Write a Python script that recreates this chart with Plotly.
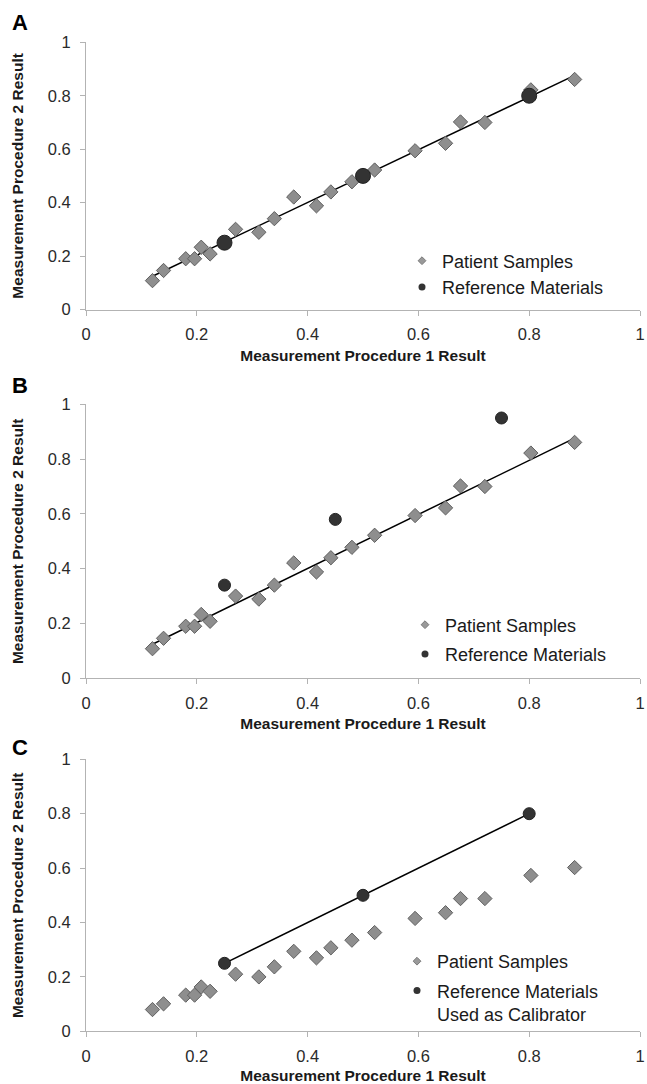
import numpy as np
import plotly.graph_objects as go

# ---------------- data ----------------
patient_x = [0.12, 0.14, 0.18, 0.196, 0.208, 0.224, 0.27, 0.312, 0.34, 0.375,
             0.416, 0.442, 0.48, 0.521, 0.594, 0.649, 0.676, 0.72, 0.803, 0.882]
patient_y_ab = [0.108, 0.146, 0.19, 0.19, 0.233, 0.208, 0.30, 0.289, 0.34, 0.421,
                0.388, 0.44, 0.478, 0.522, 0.594, 0.622, 0.702, 0.70, 0.822, 0.861]
patient_y_c = [0.08, 0.101, 0.133, 0.133, 0.163, 0.147, 0.21, 0.20, 0.237, 0.294,
               0.27, 0.307, 0.335, 0.363, 0.415, 0.436, 0.488, 0.488, 0.573, 0.602]

ref_x_a = [0.25, 0.5, 0.8]
ref_y_a = [0.25, 0.5, 0.8]
ref_x_b = [0.25, 0.45, 0.75]
ref_y_b = [0.34, 0.58, 0.95]
ref_x_c = [0.25, 0.5, 0.8]
ref_y_c = [0.25, 0.5, 0.8]

tick_vals = [0, 0.2, 0.4, 0.6, 0.8, 1]
tick_text = ["0", "0.2", "0.4", "0.6", "0.8", "1"]

panel_labels = ["A", "B", "C"]
legend_patient = "Patient Samples"
legend_ref = "Reference Materials"
legend_ref_c = "Reference Materials<br>Used as Calibrator"
x_title = "Measurement Procedure 1 Result"
y_title = "Measurement Procedure 2 Result"

# ---------------- styling ----------------
W, H = 647, 1084
FONT = "Arial, Liberation Sans, Helvetica, sans-serif"
DIAMOND_FILL = "#8e8e8e"
DIAMOND_LINE = "#606060"
CIRCLE_FILL = "#333333"
AXIS_COLOR = "#b3b3b3"

# trendline fitted through patient samples (panels A & B)
coef = np.polyfit(patient_x, patient_y_ab, 1)
fit_x = [min(patient_x), max(patient_x)]
fit_y = list(np.polyval(coef, fit_x))

fig = go.Figure()

panels = [
    dict(ax="", py=patient_y_ab, rx=ref_x_a, ry=ref_y_a, rsize=15, line="fit",
         leg="legend", reflab=legend_ref),
    dict(ax="2", py=patient_y_ab, rx=ref_x_b, ry=ref_y_b, rsize=12, line="fit",
         leg="legend2", reflab=legend_ref),
    dict(ax="3", py=patient_y_c, rx=ref_x_c, ry=ref_y_c, rsize=12, line="ref",
         leg="legend3", reflab=legend_ref_c),
]

for p in panels:
    xa, ya = "x" + p["ax"], "y" + p["ax"]
    if p["line"] == "fit":
        fig.add_trace(go.Scatter(x=fit_x, y=fit_y, mode="lines",
                                 line=dict(color="black", width=1.5),
                                 xaxis=xa, yaxis=ya, showlegend=False,
                                 hoverinfo="skip"))
    fig.add_trace(go.Scatter(x=patient_x, y=p["py"], mode="markers",
                             marker=dict(symbol="diamond", size=11, color=DIAMOND_FILL,
                                         line=dict(color=DIAMOND_LINE, width=1)),
                             xaxis=xa, yaxis=ya, showlegend=False, name=legend_patient))
    fig.add_trace(go.Scatter(x=p["rx"], y=p["ry"],
                             mode="lines+markers" if p["line"] == "ref" else "markers",
                             line=dict(color="black", width=1.5),
                             marker=dict(symbol="circle", size=p["rsize"], color=CIRCLE_FILL,
                                         line=dict(color="#222222", width=1)),
                             xaxis=xa, yaxis=ya, showlegend=False, name=legend_ref))
    # legend entries (small symbols as in the reference)
    fig.add_trace(go.Scatter(x=[None], y=[None], mode="markers", name=legend_patient,
                             marker=dict(symbol="diamond", size=6, color="#999999",
                                         line=dict(color="#7a7a7a", width=1)),
                             xaxis=xa, yaxis=ya, legend=p["leg"], legendgroup="p" + p["ax"]))
    fig.add_trace(go.Scatter(x=[None], y=[None], mode="markers", name=p["reflab"],
                             marker=dict(symbol="circle", size=7, color=CIRCLE_FILL,
                                         line=dict(width=0)),
                             xaxis=xa, yaxis=ya, legend=p["leg"], legendgroup="r" + p["ax"]))

x_dom = [86 / W, 640 / W]
y_doms = [[1 - 309.5 / H, 1 - 42.3 / H],
          [1 - 678.3 / H, 1 - 404.3 / H],
          [1 - 1031.3 / H, 1 - 759.3 / H]]

axis_common = dict(range=[0, 1], tickmode="array", tickvals=tick_vals, ticktext=tick_text,
                   showgrid=False, zeroline=False, showline=True, linecolor=AXIS_COLOR,
                   linewidth=1, ticks="outside", ticklen=5, tickcolor=AXIS_COLOR,
                   tickfont=dict(family=FONT, size=16.5, color="#2a2a2a"),
                   automargin=False, fixedrange=True)

layout = dict(width=W, height=H, margin=dict(l=0, r=0, t=0, b=0),
              paper_bgcolor="white", plot_bgcolor="white",
              font=dict(family=FONT), showlegend=True)

title_font = dict(family=FONT, size=15.5, color="#1a1a1a")
for i, p in enumerate(panels):
    sfx = p["ax"]
    layout["xaxis" + sfx] = dict(axis_common, domain=x_dom, anchor="y" + sfx,
                                 ticklabelstandoff=5,
                                 title=dict(text="<b>" + x_title + "</b>", font=title_font,
                                            standoff=7))
    layout["yaxis" + sfx] = dict(axis_common, domain=y_doms[i], anchor="x" + sfx,
                                 ticklabelstandoff=6,
                                 title=dict(text="<b>" + y_title + "</b>", font=title_font,
                                            standoff=20))

legend_common = dict(font=dict(family=FONT, size=18, color="#1a1a1a"), bgcolor="rgba(0,0,0,0)",
                     borderwidth=0, xanchor="left", yanchor="top", traceorder="grouped")
layout["legend"] = dict(legend_common, x=402 / W, y=1 - 242.5 / H, tracegroupgap=0)
layout["legend2"] = dict(legend_common, x=405 / W, y=1 - 606.5 / H, tracegroupgap=3)
layout["legend3"] = dict(legend_common, x=397 / W, y=1 - 943 / H, tracegroupgap=3, valign="top")

label_y = [23, 386, 747.5]
layout["annotations"] = [
    dict(text="<b>" + lab + "</b>", x=20 / W, y=1 - ly / H, xref="paper", yref="paper",
         showarrow=False, xanchor="center", yanchor="middle",
         font=dict(family=FONT, size=22, color="black"))
    for lab, ly in zip(panel_labels, label_y)
]

fig.update_layout(**layout)
fig.write_html("out.html", config={"displayModeBar": False},
               post_script="document.body.style.margin='0px';")
